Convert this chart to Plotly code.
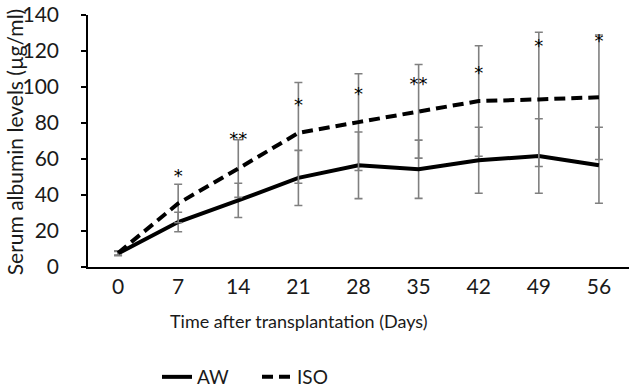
import plotly.graph_objects as go

days = [0, 7, 14, 21, 28, 35, 42, 49, 56]
day_labels = ["0", "7", "14", "21", "28", "35", "42", "49", "56"]
aw_mean = [7.5, 25.0, 37.0, 49.5, 56.5, 54.3, 59.3, 61.7, 56.5]
aw_err = [1.2, 5.4, 9.5, 15.3, 18.5, 16.2, 18.3, 20.7, 21.1]
iso_mean = [7.8, 35.3, 54.7, 74.5, 80.5, 86.5, 92.2, 93.1, 94.3]
iso_err = [1.2, 10.7, 16.0, 28.0, 26.9, 26.0, 30.7, 37.3, 34.6]
sig_days = [7, 14, 21, 28, 35, 42, 49, 56]
sig_labels = ["*", "**", "*", "*", "**", "*", "*", "*"]
sig_y = [50.0, 70.2, 89.2, 95.2, 100.9, 106.8, 122.1, 124.9]

FONT = "Lato, sans-serif"
TXT = "#1a1a1a"
ERR = "#808080"

W, H = 629, 391
L, T, B = 88, 14.5, 124
PW, PH = W - L, H - T - B

fig = go.Figure()
fig.add_trace(go.Scatter(
    x=days, y=aw_mean, name="AW", mode="lines",
    line=dict(color="black", width=4),
    error_y=dict(type="data", array=aw_err, visible=True, color=ERR,
                 thickness=1.6, width=4),
))
fig.add_trace(go.Scatter(
    x=days, y=iso_mean, name="ISO", mode="lines",
    line=dict(color="black", width=4, dash="11px,6px"),
    error_y=dict(type="data", array=iso_err, visible=True, color=ERR,
                 thickness=1.6, width=4),
))
fig.add_trace(go.Scatter(
    x=sig_days, y=sig_y, mode="text", text=sig_labels,
    textposition="middle center", showlegend=False, hoverinfo="skip",
    textfont=dict(family="DejaVu Sans, sans-serif", size=18, color="black"),
))

fig.update_layout(
    width=W, height=H,
    margin=dict(l=L, r=0, t=T, b=B, pad=0, autoexpand=False),
    paper_bgcolor="white", plot_bgcolor="white",
    font=dict(family=FONT, size=20, color=TXT),
    showlegend=True,
    legend=dict(orientation="h", xref="container", yref="container",
                x=157 / W, xanchor="left", y=1 - 377 / H, yanchor="middle",
                font=dict(family=FONT, size=19, color=TXT),
                entrywidth=55, entrywidthmode="pixels",
                traceorder="normal"),
    xaxis=dict(
        range=[-3.5, 59.5], tickvals=days, ticktext=day_labels,
        showgrid=False, zeroline=False, showline=True, linecolor="black",
        linewidth=1.5, ticks="", ticklabelstandoff=0, automargin=False,
        ticklabeloverflow="allow",
        tickfont=dict(family=FONT, size=21, color=TXT),
    ),
    yaxis=dict(
        range=[0, 140], tickvals=[0, 20, 40, 60, 80, 100, 120, 140],
        showgrid=False, zeroline=False, showline=True, linecolor="black",
        linewidth=1.5, ticks="outside", ticklen=5, tickwidth=1.5,
        tickcolor="black", ticklabelstandoff=18, automargin=False,
        ticklabeloverflow="allow",
        tickfont=dict(family=FONT, size=21, color=TXT),
    ),
    annotations=[
        dict(text="Time after transplantation (Days)",
             xref="paper", yref="paper",
             x=(299 - L) / PW, y=-(321 - T - PH) / PH,
             xanchor="center", yanchor="middle", showarrow=False,
             font=dict(family=FONT, size=18, color=TXT)),
        dict(text="Serum albumin levels (µg/ml)", textangle=-90,
             xref="paper", yref="paper",
             x=(14 - L) / PW, y=(T + PH - 142) / PH,
             xanchor="center", yanchor="middle", showarrow=False,
             font=dict(family=FONT, size=21, color=TXT)),
    ],
)

fig.write_html("out.html", config={"displayModeBar": False},
               post_script="document.body.style.margin='0';")
